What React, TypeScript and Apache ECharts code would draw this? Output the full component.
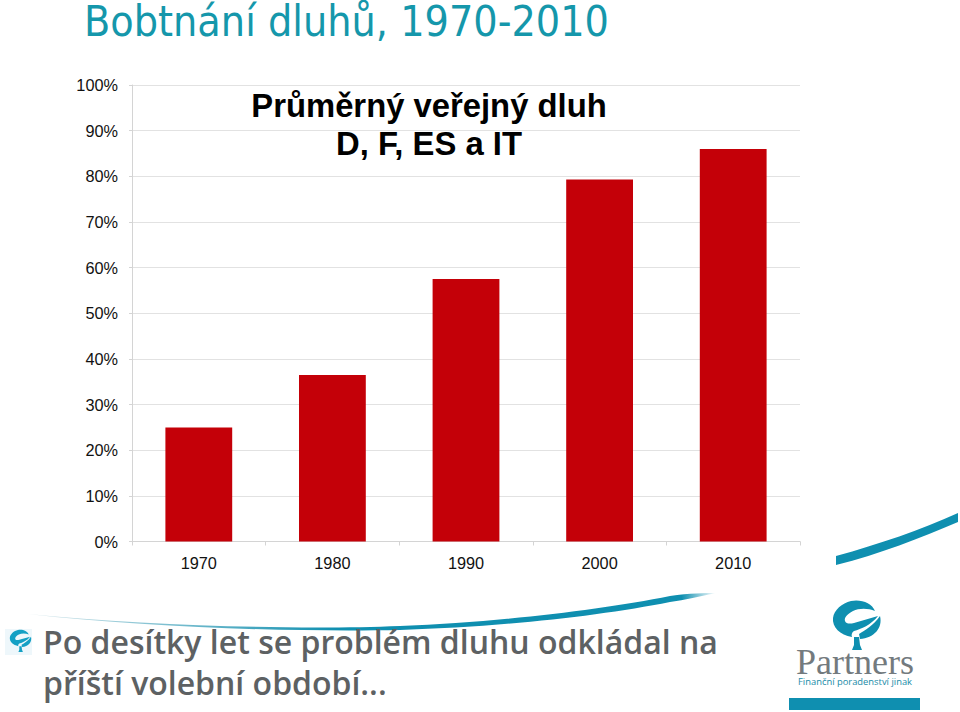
import React, { useEffect, useRef } from "react";
import * as echarts from "echarts";

const categories = ["1970", "1980", "1990", "2000", "2010"];
const debtValues = [25, 36.5, 57.5, 79.3, 86];
const slideTitle = "Bobtnání dluhů, 1970-2010";
const chartTitle = "Průměrný veřejný dluh\nD, F, ES a IT";
const bodyLines = ["Po desítky let se problém dluhu odkládal na", "příští volební období..."];

const TEAL = "#0f8fb0";
const swooshRight = "M836 556 C880 544 920 530 958 513 L958 522 C920 538 880 554 836 565 Z";
const swooshLong = "M28 614 C150 626 300 630 400 626 C500 622 600 610 670 596 C690 593 705 593 716 593 C700 596 685 600 670 602 C600 616 500 627 400 630 C300 632 150 628 28 614 Z";
const logoMark = "M851 601 C861 599 872 603 875 611 C868 608 859 608 853 611 C847 614 844 618 845 621 C846 624 850 624 854 623 L878 616 C871 625 861 629 854 631 C852 632 851 635 852 637 C840 635 832 627 833 618 C834 610 842 603 851 601 Z M880 616 C883 628 874 638 860 639 L859 634 C865 630 873 626 880 616 Z M854 637 L859 637 L860 645 L862 650 L852 650 L854 645 Z";

echarts.graphic.registerShape("swooshRight", echarts.graphic.extendPath(swooshRight, {}));
echarts.graphic.registerShape("swooshLong", echarts.graphic.extendPath(swooshLong, {}));
echarts.graphic.registerShape("logoMark", echarts.graphic.extendPath(logoMark, {}));

export default function App() {
  const ref = useRef<HTMLDivElement>(null);
  useEffect(() => {
    const chart = echarts.init(ref.current!, undefined, { renderer: "svg" });
    chart.setOption({
      animation: false,
      backgroundColor: "#ffffff",
      grid: { left: 132, right: 160, top: 85, bottom: 170.5, containLabel: false },
      xAxis: {
        type: "category",
        data: categories,
        axisLine: { lineStyle: { color: "#d4d4d4", width: 1 } },
        axisTick: { show: true, length: 4, lineStyle: { color: "#d4d4d4" } },
        axisLabel: { color: "#111", fontFamily: "Liberation Sans", fontSize: 16.3, margin: 13 },
      },
      yAxis: {
        type: "value",
        min: 0,
        max: 100,
        interval: 10,
        axisLine: { show: true, lineStyle: { color: "#d4d4d4" } },
        axisTick: { show: true, length: 3, lineStyle: { color: "#d4d4d4" } },
        axisLabel: { color: "#111", fontFamily: "Liberation Sans", fontSize: 16.3, margin: 14, formatter: "{value}%" },
        splitLine: { show: true, lineStyle: { color: "#e2e2e2", width: 1 } },
      },
      series: [{ type: "bar", data: debtValues, barWidth: "50%", itemStyle: { color: "#c40008" } }],
      graphic: [
        { type: "text", x: 84, y: 2, style: { text: slideTitle, fill: "#1597ab", font: "42.6px 'DejaVu Sans Condensed'", lineHeight: 38 } },
        { type: "text", x: 429, y: 86, style: { text: chartTitle, fill: "#000", font: "bold 32.8px 'Liberation Sans'", align: "center", lineHeight: 38 } },
        { type: "swooshRight", x: 0, y: 0, style: { fill: TEAL } },
        { type: "swooshLong", x: 0, y: 0, style: { fill: new echarts.graphic.LinearGradient(0, 0, 1, 0, [
          { offset: 0, color: "#d6e6ea" }, { offset: 0.45, color: TEAL }, { offset: 0.95, color: TEAL }, { offset: 1, color: "#ffffff" },
        ]) } },
        { type: "rect", shape: { x: 5, y: 629, width: 27, height: 26 }, style: { fill: "#eef7fb" } },
        { type: "logoMark", x: -365, y: 359.5, scaleX: 0.45, scaleY: 0.45, style: { fill: "#14a0c4" } },
        { type: "text", x: 43, y: 621, style: { text: bodyLines.join("\n"), fill: "#5d6163", font: "600 32px 'Open Sans'", lineHeight: 41 } },
        { type: "logoMark", x: 0, y: 0, style: { fill: TEAL } },
        { type: "text", x: 855, y: 650, style: { text: "Partners", fill: "#737a7e", font: "36px 'Liberation Serif'", align: "center", lineHeight: 24 } },
        { type: "text", x: 855, y: 677, style: { text: "Finanční poradenství jinak", fill: "#1a8ba8", font: "9.4px 'Open Sans'", align: "center" } },
        { type: "rect", shape: { x: 789, y: 698, width: 131, height: 12 }, style: { fill: TEAL } },
      ],
    });
    return () => chart.dispose();
  }, []);
  return <div ref={ref} style={{ position: "fixed", left: 0, top: 0, width: 960, height: 712 }} />;
}
